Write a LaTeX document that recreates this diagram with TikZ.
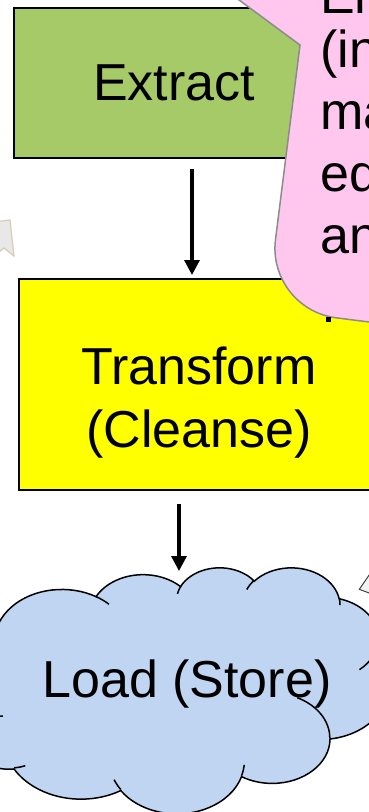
\documentclass[tikz,border=0pt]{standalone}
\usepackage{fontspec}
\setmainfont{Liberation Sans}
\usetikzlibrary{arrows.meta,calc}

\definecolor{extractgreen}{HTML}{A6CA67}
\definecolor{stageyellow}{RGB}{255,255,0}
\definecolor{notepink}{HTML}{FFC7EE}
\definecolor{notegrey}{HTML}{8C8C8C}
\definecolor{cloudblue}{HTML}{C0D5F2}
\definecolor{ribbonfill}{HTML}{E8E8E8}
\definecolor{ribbonedge}{HTML}{D7CDB4}
\definecolor{pointerfill}{HTML}{F2F2F2}

% elliptical arc of the cloud outline: x radius, y radius, start angle, sweep
% (angles are measured along the ray, converted here to the ellipse parameter)
\newcommand\cloudarc[4]{%
  arc[x radius=#1, y radius=#2,
      start angle={atan2((#1)*sin(#3),(#2)*cos(#3))},
      delta angle={mod(atan2((#1)*sin((#3)+(#4)),(#2)*cos((#3)+(#4)))-atan2((#1)*sin(#3),(#2)*cos(#3))+720,360)}]}

\begin{document}
\begin{tikzpicture}[x=1pt, y=-1pt,
  font=\fontsize{52}{62}\selectfont,
  stagebox/.style={draw=black, line width=2pt, inner sep=0pt, anchor=north west},
  stagetext/.style={inner sep=0pt, anchor=base},
  notetext/.style={inner sep=0pt, anchor=base west},
  flow/.style={line width=3.3pt, -{Triangle[length=15pt,width=15pt]}},
  cloudline/.style={draw=black, line width=1.5pt}]

\useasboundingbox (0,0) rectangle (369,812);
\clip (0,0) rectangle (369,812);

% stage boxes
\node[stagebox, fill=extractgreen, minimum width=322pt, minimum height=150pt] (extract) at (13,7) {};
\node[stagebox, fill=stageyellow, minimum width=362pt, minimum height=211pt] (transform) at (18,278) {};

% ribbon end at the left margin
\path[fill=ribbonfill, draw=ribbonedge, line width=1.2pt]
  (-6,222) -- (10,220) -- (14,256) -- (4,248) -- (-6,256) -- cycle;

% pointer tip at the right of the cloud
\path[fill=pointerfill, draw=black!75, line width=1pt]
  (385,552) -- (359.3,589.3) -- (385,599) -- cycle;

% speech callout
\path[fill=notepink, draw=notegrey, line width=1.5pt]
  (212,-20) -- (300,45) -- (275.5,239.6)
  .. controls (270.7,277.9) and (297.8,312.9) .. (336.1,317.8)
  -- (440,331) -- (440,-40) -- (212,-40) -- cycle;
\node[fill=black, minimum size=5pt, inner sep=0pt] (stop) at (328,319) {};

% cloud
\begin{scope}[shift={(-44,567)}, x=1pt, y=-0.5694pt]
  \path[fill=cloudblue, cloudline] (39.00,143.70)
    \cloudarc{67.53}{91.90}{-190.4875}{123.7805}
    \cloudarc{53.33}{72.67}{-144.1024}{89.9452}
    \cloudarc{43.65}{59.45}{-145.8079}{99.7230}
    \cloudarc{48.57}{65.95}{-130.9861}{117.2417}
    \cloudarc{53.33}{72.73}{-78.7089}{109.0269}
    \cloudarc{67.75}{92.20}{-46.2673}{130.2690}
    \cloudarc{57.85}{78.67}{0.6250}{114.0333}
    \cloudarc{67.52}{92.15}{22.4516}{115.1726}
    \cloudarc{77.20}{105.43}{66.2426}{75.7110}
    \cloudarc{43.60}{59.18}{-274.9421}{146.7356}
    \cloudarc{43.45}{59.45}{-246.8285}{152.5189}
    -- cycle;
  \path[cloudline]
    (46.93,261.77) \cloudarc{43.45}{59.45}{86.7420}{26.4295}
    (69.28,348.99) \cloudarc{43.60}{59.18}{73.6105}{11.4475}
    (164.78,390.90) \cloudarc{67.52}{92.15}{137.6242}{14.0811}
    (288.27,347.51) \cloudarc{67.52}{92.15}{6.4533}{15.9984}
    (341.29,229.54) \cloudarc{57.85}{78.67}{-70.2924}{70.9174}
    (417.98,153.54) \cloudarc{53.33}{72.73}{30.3180}{27.7515}
    (383.24,54.26) \cloudarc{48.57}{65.95}{-13.7443}{14.8589}
    (290.78,39.52) \cloudarc{48.57}{65.95}{-149.1815}{18.1954}
    (221.41,47.20) \cloudarc{43.65}{59.45}{-163.4943}{17.6864}
    (140.00,51.92) \cloudarc{67.53}{91.90}{-66.7070}{12.3194}
    (41.27,157.89) \cloudarc{67.53}{91.90}{157.6544}{11.8582};
\end{scope}

% labels
\node[stagetext] (extractlbl) at (174,100) {Extract};
\node[stagetext] (transformlbl) at (199,384) {Transform};
\node[stagetext] (cleanselbl) at (199,447) {(Cleanse)};
\node[stagetext] (loadlbl) at (187,697) {Load (Store)};
\coordinate (loadtop) at (179,571);

% callout text
\node[notetext] (note1) at (320,13) {Entry};
\node[notetext] (note2) at (320,67) {(including};
\node[notetext] (note3) at (320,129) {manual};
\node[notetext] (note4) at (320,191) {edits};
\node[notetext] (note5) at (320,253) {and};

% flow arrows
\draw[flow] ([xshift=179pt,yshift=-10pt]extract.south west) -- ([xshift=174pt,yshift=3pt]transform.north west);
\draw[flow] ([xshift=161pt,yshift=-13pt]transform.south west) -- (loadtop);
\end{tikzpicture}
\end{document}
